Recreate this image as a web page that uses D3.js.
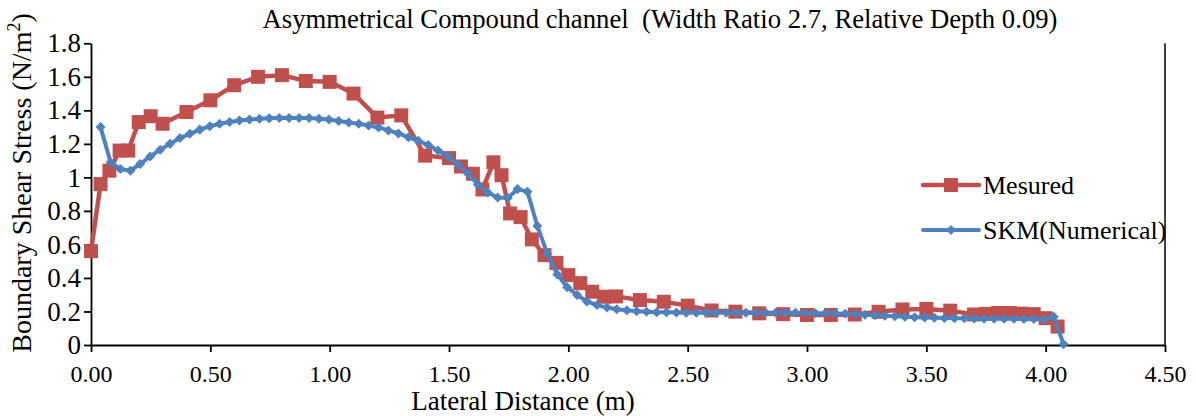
<!DOCTYPE html>
<html>
<head>
<meta charset="utf-8">
<script src="https://cdn.jsdelivr.net/npm/d3@7"></script>
<style>
  body { margin: 0; background: #fff; }
</style>
</head>
<body>
<div class="chart"></div>
<script>
// Measured boundary shear stress (red squares)
const measuredX = [0.00, 0.04, 0.077, 0.12, 0.156, 0.20, 0.25, 0.30, 0.40, 0.50, 0.60, 0.70, 0.80, 0.90, 1.00, 1.10, 1.20, 1.30, 1.40, 1.50, 1.55, 1.60, 1.64, 1.686, 1.72, 1.756, 1.80, 1.847, 1.90, 1.95, 2.00, 2.05, 2.10, 2.15, 2.20, 2.30, 2.40, 2.50, 2.60, 2.70, 2.80, 2.90, 3.00, 3.10, 3.20, 3.30, 3.40, 3.50, 3.60, 3.70, 3.75, 3.80, 3.85, 3.90, 3.95, 4.00, 4.05];
const measuredY = [0.56, 0.96, 1.04, 1.16, 1.16, 1.33, 1.365, 1.32, 1.39, 1.46, 1.55, 1.60, 1.61, 1.575, 1.57, 1.50, 1.357, 1.37, 1.13, 1.115, 1.065, 1.022, 0.928, 1.09, 1.013, 0.785, 0.763, 0.63, 0.536, 0.49, 0.417, 0.369, 0.318, 0.288, 0.29, 0.268, 0.258, 0.235, 0.206, 0.199, 0.189, 0.184, 0.179, 0.179, 0.182, 0.198, 0.212, 0.215, 0.205, 0.182, 0.186, 0.191, 0.191, 0.187, 0.184, 0.16, 0.11];

// SKM numerical solution (blue diamonds)
const skmX = [0.040, 0.082, 0.123, 0.165, 0.206, 0.248, 0.290, 0.331, 0.373, 0.414,
  0.456, 0.498, 0.539, 0.581, 0.622, 0.664, 0.706, 0.747, 0.789, 0.830,
  0.872, 0.914, 0.955, 0.997, 1.038, 1.080, 1.122, 1.163, 1.205, 1.246,
  1.288, 1.330, 1.371, 1.413, 1.454, 1.496, 1.538, 1.579, 1.621, 1.662,
  1.704, 1.746, 1.787, 1.829, 1.870, 1.912, 1.954, 1.995, 2.037, 2.078,
  2.120, 2.162, 2.203, 2.245, 2.286, 2.328, 2.370, 2.411, 2.453, 2.494,
  2.536, 2.578, 2.619, 2.661, 2.702, 2.744, 2.786, 2.827, 2.869, 2.910,
  2.952, 2.994, 3.035, 3.077, 3.118, 3.160, 3.202, 3.243, 3.285, 3.326,
  3.368, 3.410, 3.451, 3.493, 3.534, 3.576, 3.618, 3.659, 3.701, 3.742,
  3.784, 3.826, 3.867, 3.909, 3.950, 3.992, 4.034, 4.075];
const skmY = [1.30, 1.09, 1.05, 1.04, 1.08, 1.125, 1.165, 1.20, 1.235, 1.26,
  1.285, 1.305, 1.32, 1.33, 1.34, 1.345, 1.35, 1.353, 1.355, 1.355,
  1.355, 1.354, 1.35, 1.345, 1.337, 1.328, 1.32, 1.31, 1.298, 1.28,
  1.262, 1.24, 1.218, 1.193, 1.16, 1.125, 1.075, 1.023, 0.958, 0.91,
  0.88, 0.877, 0.93, 0.915, 0.71, 0.545, 0.42, 0.345, 0.298, 0.26,
  0.238, 0.224, 0.213, 0.207, 0.202, 0.198, 0.196, 0.195, 0.194, 0.193,
  0.193, 0.193, 0.193, 0.193, 0.193, 0.193, 0.193, 0.193, 0.192, 0.192,
  0.192, 0.191, 0.19, 0.189, 0.188, 0.186, 0.183, 0.18, 0.177, 0.174,
  0.171, 0.168, 0.166, 0.164, 0.162, 0.161, 0.16, 0.159, 0.158, 0.157,
  0.157, 0.156, 0.156, 0.155, 0.155, 0.152, 0.168, 0.005];

const xTicks = [0, 0.5, 1.0, 1.5, 2.0, 2.5, 3.0, 3.5, 4.0, 4.5];
const yTicks = [0, 0.2, 0.4, 0.6, 0.8, 1, 1.2, 1.4, 1.6, 1.8];
const seriesNames = ["Mesured", "SKM(Numerical)"];

var width = 1196;
var height = 416;
var margin = { left: 91, right: 31, top: 43.3, bottom: 71 };

const RED = "#C0504D";
const BLUE = "#4F81BD";
const FONT = "'Liberation Serif', 'Times New Roman', 'DejaVu Serif', serif";

var svg = d3.select(".chart")
  .append("svg")
  .attr("width", width)
  .attr("height", height)
  .style("font-family", FONT);

var x = d3.scaleLinear()
  .domain([0, 4.5])
  .range([margin.left, width - margin.right]);

var y = d3.scaleLinear()
  .domain([0, 1.8])
  .range([height - margin.bottom, margin.top]);

// title
svg.append("text")
  .attr("x", 660)
  .attr("y", 28)
  .attr("text-anchor", "middle")
  .style("font-family", FONT)
  .style("font-size", "26.7px")
  .style("white-space", "pre")
  .text("Asymmetrical Compound channel  (Width Ratio 2.7, Relative Depth 0.09)");

// right border of plot area
svg.append("line")
  .attr("x1", x(4.5)).attr("x2", x(4.5))
  .attr("y1", y(1.8)).attr("y2", y(0))
  .style("stroke", "#000")
  .style("stroke-width", 1.5);

// axes
var xAxis = svg.append("g")
  .attr("transform", `translate(0,${y(0)})`)
  .call(d3.axisBottom(x).tickValues(xTicks).tickSize(7).tickPadding(13).tickSizeOuter(0).tickFormat(d3.format(".2f")));

var yAxis = svg.append("g")
  .attr("transform", `translate(${x(0)},0)`)
  .call(d3.axisLeft(y).tickValues(yTicks).tickSize(7).tickPadding(3).tickSizeOuter(0).tickFormat(d => d));

xAxis.attr("font-family", null);
yAxis.attr("font-family", null);
xAxis.selectAll("text").style("font-family", FONT).style("font-size", "24px");
yAxis.selectAll("text").style("font-family", FONT).style("font-size", "27px");
svg.selectAll(".domain, .tick line").style("stroke", "#000").style("stroke-width", 1.8);

// axis titles
svg.append("text")
  .attr("x", 523)
  .attr("y", 410)
  .attr("text-anchor", "middle")
  .style("font-family", FONT)
  .style("font-size", "27px")
  .text("Lateral Distance (m)");

var yTitle = svg.append("text")
  .attr("transform", "translate(31,183) rotate(-90)")
  .attr("text-anchor", "middle")
  .style("font-family", FONT)
  .style("font-size", "28px");
yTitle.append("tspan").text("Boundary Shear Stress (N/m");
yTitle.append("tspan").attr("dy", -11).style("font-size", "18px").text("2");
yTitle.append("tspan").attr("dy", 11).text(")");

var line = d3.line()
  .x(d => x(d[0]))
  .y(d => y(d[1]));

const measured = measuredX.map((v, i) => [v, measuredY[i]]);
const skm = skmX.map((v, i) => [v, skmY[i]]);

// measured series
svg.append("path")
  .datum(measured)
  .attr("d", line)
  .style("fill", "none")
  .style("stroke", RED)
  .style("stroke-width", 4.5)
  .style("stroke-linejoin", "round");

svg.selectAll(".sq")
  .data(measured)
  .join("rect")
  .attr("class", "sq")
  .attr("x", d => x(d[0]) - 7)
  .attr("y", d => y(d[1]) - 7)
  .attr("width", 14)
  .attr("height", 14)
  .style("fill", RED);

// SKM series
svg.append("path")
  .datum(skm)
  .attr("d", line)
  .style("fill", "none")
  .style("stroke", BLUE)
  .style("stroke-width", 4)
  .style("stroke-linejoin", "round");

var diamond = d3.symbol().type(d3.symbolDiamond2).size(64);

svg.selectAll(".dm")
  .data(skm)
  .join("path")
  .attr("class", "dm")
  .attr("transform", d => `translate(${x(d[0])},${y(d[1])})`)
  .attr("d", diamond)
  .style("fill", BLUE);

// legend
const legend = svg.append("g");
const legendRows = [
  { name: seriesNames[0], color: RED, y: 185, marker: "square" },
  { name: seriesNames[1], color: BLUE, y: 230, marker: "diamond" }
];
legendRows.forEach(r => {
  legend.append("line")
    .attr("x1", 923).attr("x2", 979)
    .attr("y1", r.y).attr("y2", r.y)
    .style("stroke", r.color)
    .style("stroke-width", r.marker == "square" ? 4.5 : 4)
    .style("stroke-linecap", "round");
  if (r.marker == "square") {
    legend.append("rect")
      .attr("x", 951 - 7).attr("y", r.y - 7)
      .attr("width", 14).attr("height", 14)
      .style("fill", r.color);
  } else {
    legend.append("path")
      .attr("transform", `translate(951,${r.y})`)
      .attr("d", diamond)
      .style("fill", r.color);
  }
  legend.append("text")
    .attr("x", 983)
    .attr("y", r.y + 9)
    .style("font-family", FONT)
    .style("font-size", "26px")
    .text(r.name);
});
</script>
</body>
</html>
